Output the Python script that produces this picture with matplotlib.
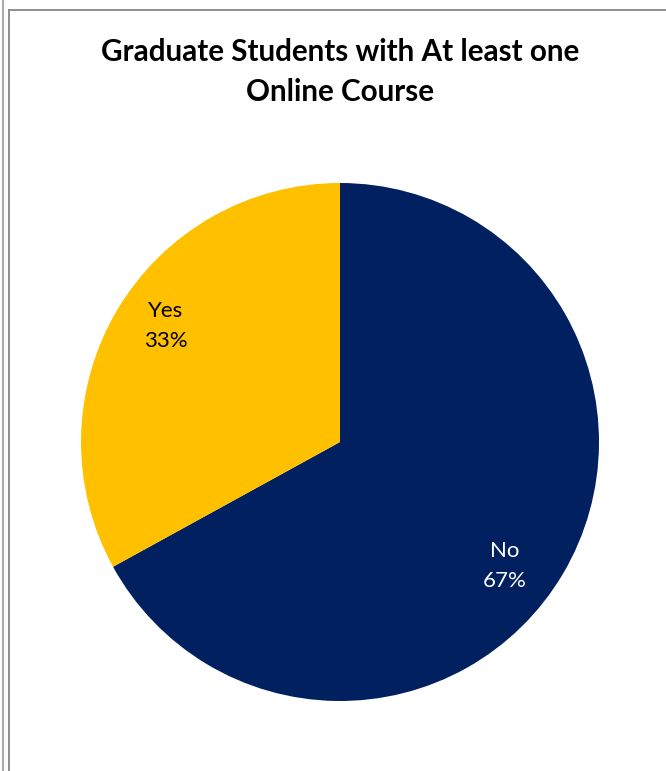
import matplotlib
matplotlib.use("Agg")
import matplotlib.pyplot as plt
from matplotlib.lines import Line2D

categories = ["No", "Yes"]
values = [67, 33]
colors = ["#002060", "#FFC000"]
title = "Graduate Students with At least one\nOnline Course"

W, H = 666, 771
fig = plt.figure(figsize=(W / 100, H / 100), dpi=100)
fig.patch.set_facecolor("white")

# borders
fig.add_artist(Line2D([2.5 / W, 2.5 / W], [0, 1], color="#AAAAAA", lw=1.5, transform=fig.transFigure))
fig.add_artist(Line2D([8.5 / W, 8.5 / W], [0, 1 - 9.5 / H], color="#868686", lw=1.3, transform=fig.transFigure))
fig.add_artist(Line2D([8.5 / W, 1], [1 - 9.5 / H, 1 - 9.5 / H], color="#868686", lw=1.3, transform=fig.transFigure))

# pie axes: center (340, 442), radius 259
cx, cy, r = 340, 442, 259
ax = fig.add_axes([(cx - r) / W, 1 - (cy + r) / H, 2 * r / W, 2 * r / H])
wedges, _ = ax.pie(values, colors=colors, startangle=90, counterclock=False,
                   radius=1.0, wedgeprops=dict(linewidth=0))
ax.set_xlim(-1, 1)
ax.set_ylim(-1, 1)
ax.set_aspect("equal")
ax.axis("off")

font = ["Lato", "DejaVu Sans"]
label_pos = {"Yes": (166, 326), "No": (505, 566)}
label_col = {"Yes": "black", "No": "white"}
for cat, v in zip(categories, values):
    x, y = label_pos[cat]
    fig.text(x / W, 1 - y / H, f"{cat}\n{v}%", ha="center", va="center",
             fontsize=16, color=label_col[cat], family=font, linespacing=1.65)

fig.text(340 / W, 1 - 72 / H, title, ha="center", va="center", fontsize=21.3,
         fontweight="bold", family=font, linespacing=1.48, color="black")

fig.savefig("out.png", dpi=100)
